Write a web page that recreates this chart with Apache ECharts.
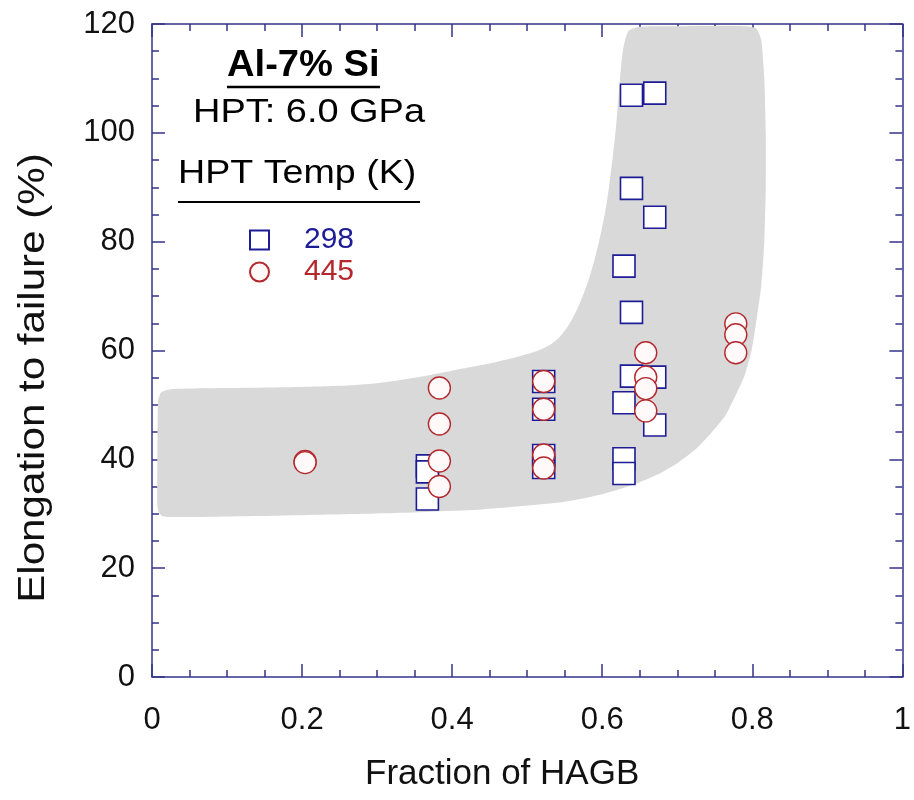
<!DOCTYPE html>
<html>
<head>
<meta charset="utf-8">
<script src="https://cdn.jsdelivr.net/npm/echarts@6/dist/echarts.min.js"></script>
<style>
html,body{margin:0;padding:0;background:#fff;}
#chart{width:914px;height:800px;}
</style>
</head>
<body>
<div id="chart"></div>
<script>
// ---- data ----
const hagb298 = [0.367, 0.367, 0.367, 0.522, 0.522, 0.522, 0.522, 0.629, 0.629, 0.629, 0.629, 0.639, 0.639, 0.639, 0.639, 0.670, 0.670, 0.670, 0.670];
const elong298 = [38.8, 37.7, 32.7, 54.3, 49.2, 40.7, 38.5, 75.5, 50.4, 40.1, 37.4, 106.9, 89.8, 67.0, 55.3, 107.3, 84.5, 55.1, 46.3];
const hagb445 = [0.204, 0.204, 0.383, 0.383, 0.383, 0.383, 0.522, 0.522, 0.522, 0.522, 0.658, 0.658, 0.658, 0.658, 0.778, 0.778, 0.778];
const elong445 = [39.6, 39.4, 53.1, 46.5, 39.7, 35.0, 54.3, 49.2, 40.8, 38.4, 59.6, 55.1, 53.0, 48.9, 64.9, 62.9, 59.6];
// gray trend band outline (fraction of HAGB, elongation %)
const bandX = [0.007, 0.008, 0.012, 0.025, 0.10, 0.20, 0.25, 0.30, 0.35, 0.40, 0.45, 0.486, 0.515, 0.530, 0.542, 0.552, 0.562, 0.572, 0.582, 0.590, 0.597, 0.604, 0.609, 0.614, 0.618, 0.621, 0.624, 0.628, 0.635, 0.650, 0.70, 0.79, 0.805, 0.812, 0.816, 0.818, 0.818, 0.816, 0.812, 0.806, 0.799, 0.790, 0.778, 0.764, 0.745, 0.724, 0.700, 0.675, 0.650, 0.625, 0.600, 0.570, 0.540, 0.44, 0.31, 0.18, 0.05, 0.025, 0.013, 0.009, 0.007];
const bandY = [33.0, 50.5, 52.3, 52.9, 53.1, 53.3, 53.5, 54.0, 55.0, 56.3, 57.6, 58.8, 60.0, 61.0, 62.3, 64.0, 66.3, 69.3, 73.0, 76.8, 80.8, 85.5, 90.0, 95.5, 100.5, 105.5, 110.5, 115.5, 118.7, 119.5, 119.6, 119.6, 119.2, 117.0, 110.0, 100.0, 90.0, 80.0, 72.0, 66.0, 60.0, 55.5, 51.8, 48.0, 44.8, 41.8, 39.3, 37.3, 35.8, 34.6, 33.6, 32.7, 32.0, 30.8, 30.1, 29.7, 29.4, 29.4, 29.6, 30.3, 31.5];
const xTickLabels = ['0', '0.2', '0.4', '0.6', '0.8', '1'];
const yTickLabels = ['0', '20', '40', '60', '80', '100', '120'];
const seriesNames = ['298', '445'];

const navy = '#35358a';
const blue = '#1c1c96';
const red = '#b3282d';
const font = '"Liberation Sans", Arial, sans-serif';

const band = bandX.map((x, i) => [x, bandY[i]]);
const pts298 = hagb298.map((x, i) => [x, elong298[i]]);
const pts445 = hagb445.map((x, i) => [x, elong445[i]]);

function axisCommon(extra) {
  return Object.assign({
    type: 'value',
    axisLine: { show: true, onZero: false, lineStyle: { color: navy, width: 1.5 } },
    axisTick: { show: true, inside: true, length: 13, lineStyle: { color: navy, width: 1.5 } },
    minorTick: { show: true, splitNumber: 4, length: 7, lineStyle: { color: navy, width: 1.5 } },
    splitLine: { show: false },
    minorSplitLine: { show: false }
  }, extra);
}

const chart = echarts.init(document.getElementById('chart'), null, { renderer: 'canvas' });
chart.setOption({
  animation: false,
  backgroundColor: '#ffffff',
  grid: { left: 152, top: 24, width: 757, height: 653 },
  xAxis: [
    axisCommon({
      min: 0, max: 1, interval: 0.2, position: 'bottom',
      axisLabel: { show: true, fontSize: 31, fontFamily: font, color: '#111', margin: 28,
        formatter: v => xTickLabels[Math.round(v / 0.2)] }
    }),
    axisCommon({ min: 0, max: 1, interval: 0.2, position: 'top', axisLabel: { show: false } })
  ],
  yAxis: [
    axisCommon({
      min: 0, max: 120, interval: 20, position: 'left',
      axisLabel: { show: true, fontSize: 31, fontFamily: font, color: '#111', margin: 17,
        formatter: v => yTickLabels[Math.round(v / 20)] }
    }),
    axisCommon({ min: 0, max: 120, interval: 20, position: 'right', axisLabel: { show: false } })
  ],
  legend: {
    orient: 'vertical', left: 244, top: 220, itemWidth: 19, itemHeight: 19, itemGap: 2,
    textStyle: { fontSize: 30, fontFamily: font, padding: [0, 0, 0, 30] },
    data: [
      { name: seriesNames[0], icon: 'rect', textStyle: { color: blue } },
      { name: seriesNames[1], icon: 'circle', textStyle: { color: red } }
    ]
  },
  series: [
    {
      type: 'custom', silent: true, z: 1,
      data: [0],
      renderItem: function (params, api) {
        const pts = band.map(p => api.coord(p));
        return { type: 'polygon', shape: { points: pts, smooth: 0.2 }, style: { fill: '#d9d9d9', stroke: null } };
      }
    },
    {
      name: seriesNames[0], type: 'scatter', z: 3, symbol: 'rect', symbolSize: 22,
      itemStyle: { color: '#ffffff', borderColor: blue, borderWidth: 1.6, opacity: 1 },
      data: pts298
    },
    {
      name: seriesNames[1], type: 'scatter', z: 4, symbol: 'circle', symbolSize: 22,
      itemStyle: { color: '#fff9f9', borderColor: red, borderWidth: 1.4, opacity: 1 },
      data: pts445
    }
  ],
  graphic: [
    { type: 'text', left: 227, top: 48, scaleX: 1.06, style: { text: 'Al-7% Si', font: 'bold 36px ' + font, fill: '#000' } },
    { type: 'line', shape: { x1: 227, y1: 87, x2: 380, y2: 87 }, style: { stroke: '#000', lineWidth: 2.5 } },
    { type: 'text', left: 193, top: 96, scaleX: 1.15, style: { text: 'HPT: 6.0 GPa', font: '33px ' + font, fill: '#000' } },
    { type: 'text', left: 178, top: 157, scaleX: 1.14, style: { text: 'HPT Temp (K)', font: '33px ' + font, fill: '#000' } },
    { type: 'line', shape: { x1: 178, y1: 202, x2: 420, y2: 202 }, style: { stroke: '#000', lineWidth: 2 } },
    { type: 'text', left: 365, top: 757, style: { text: 'Fraction of HAGB', font: '35px ' + font, fill: '#111' } },
    { type: 'text', x: 34, y: 378, rotation: Math.PI / 2, scaleX: 1.17,
      style: { text: 'Elongation to failure (%)', font: '36px ' + font, fill: '#111', textAlign: 'center', textVerticalAlign: 'middle' } }
  ]
});
</script>
</body>
</html>
